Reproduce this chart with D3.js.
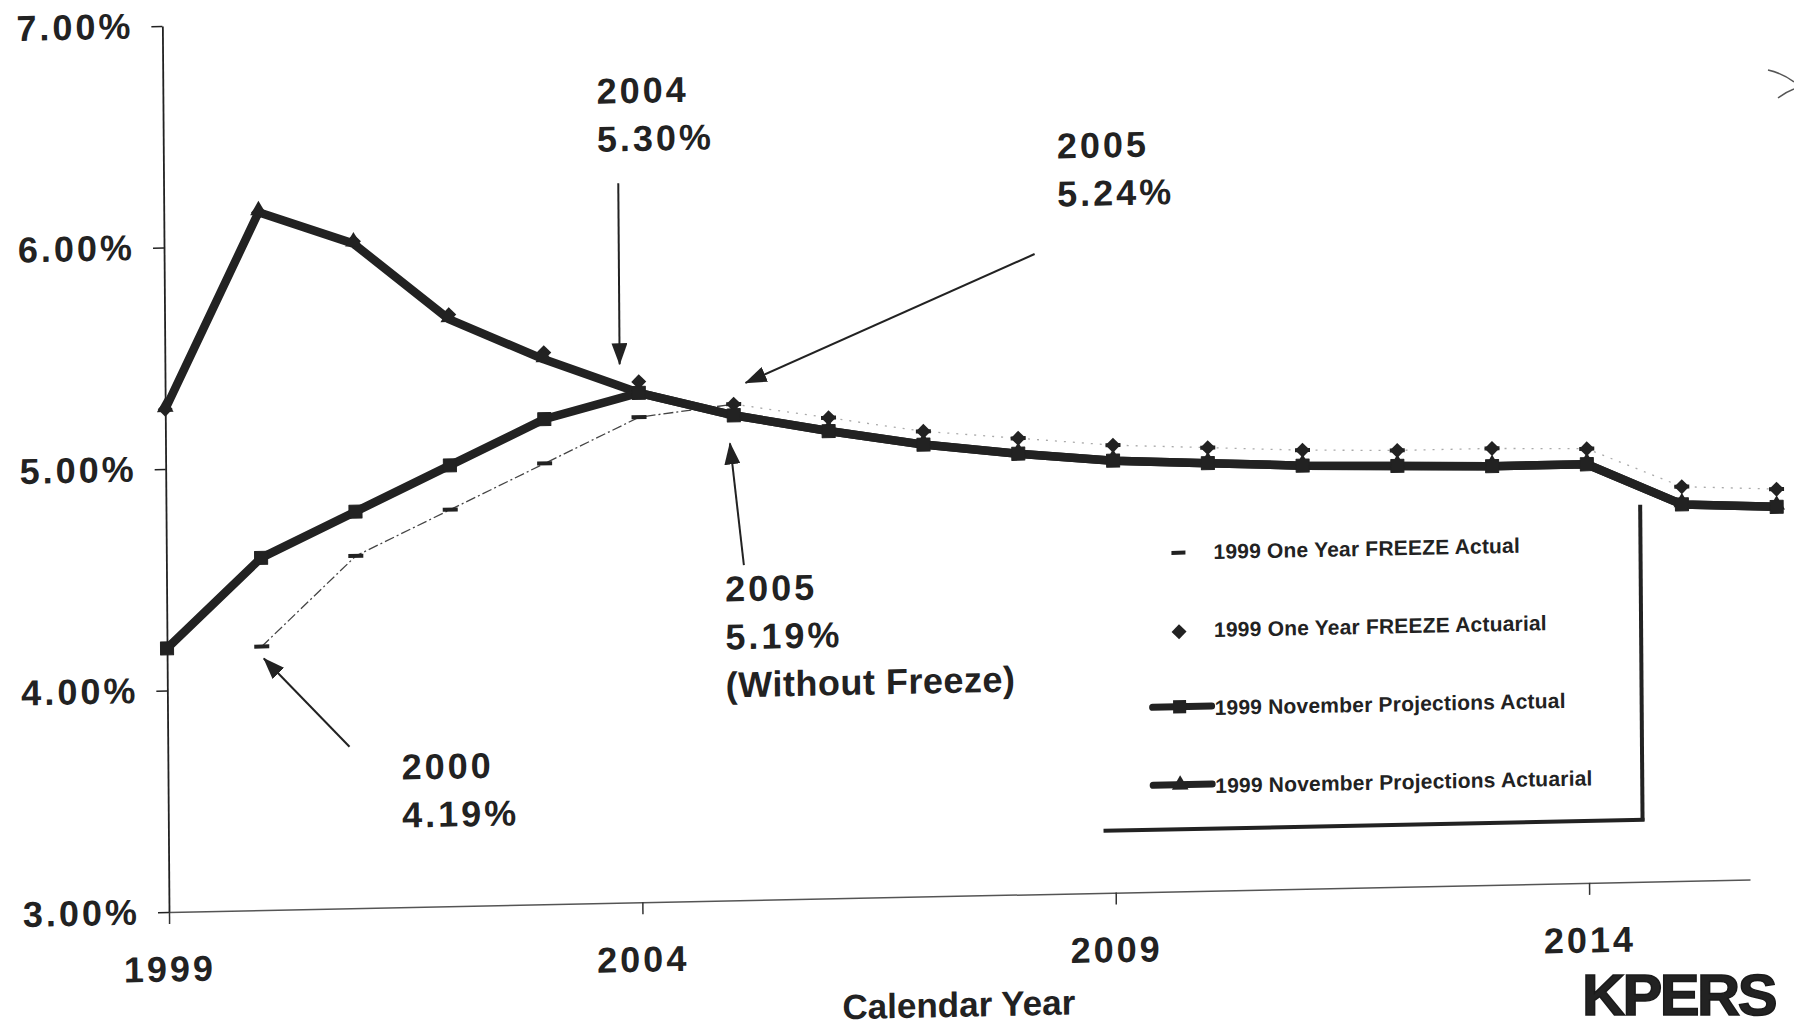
<!DOCTYPE html>
<html>
<head>
<meta charset="utf-8">
<script src="https://cdn.jsdelivr.net/npm/d3@7"></script>
<style>
  body { margin: 0; background: #fff; }
  text { font-family: "Liberation Sans", Arial, sans-serif; font-weight: bold; fill: #222; }
</style>
</head>
<body>
<div id="chart"></div>
<script>
// ---- data ----
var years = [1999, 2000, 2001, 2002, 2003, 2004, 2005, 2006, 2007, 2008,
             2009, 2010, 2011, 2012, 2013, 2014, 2015, 2016];
var novActuarial = [5.27, 6.15, 6.00, 5.65, 5.46, 5.30, 5.19, 5.11, 5.04, 4.99,
                    4.95, 4.93, 4.91, 4.90, 4.89, 4.89, 4.70, 4.68];
var novActual = [4.19, 4.59, 4.79, 4.99, 5.19, 5.30, 5.19, 5.11, 5.04, 4.99,
                 4.95, 4.93, 4.91, 4.90, 4.89, 4.89, 4.70, 4.68];
var freezeActuarial = [5.27, 6.15, 6.01, 5.67, 5.49, 5.35, 5.24, 5.17, 5.10, 5.06,
                       5.02, 5.00, 4.98, 4.97, 4.97, 4.96, 4.78, 4.76];
var freezeActual = [null, 4.19, 4.59, 4.79, 4.99, 5.19, 5.24, 5.17, 5.10, 5.06,
                    5.02, 5.00, 4.98, 4.97, 4.97, 4.96, 4.78, 4.76];

var yTicks = [3, 4, 5, 6, 7];
var xTicks = [1999, 2004, 2009, 2014];
var xTitle = "Calendar Year";
var legendLabels = ["1999 One Year FREEZE Actual", "1999 One Year FREEZE Actuarial",
                    "1999 November Projections Actual", "1999 November Projections Actuarial"];

// callouts: the point each arrow refers to, and the text
var calloutYears = [2004, 2005, 2005, 2000];
var calloutValues = [5.30, 5.24, 5.19, 4.19];
var calloutText = [["2004", "5.30%"], ["2005", "5.24%"], ["2005", "5.19%", "(Without Freeze)"], ["2000", "4.19%"]];

// ---- page setup ----
var width = 1794, height = 1030;
var svg = d3.select("#chart").append("svg")
  .attr("width", width)
  .attr("height", height);

svg.append("defs").append("marker")
  .attr("id", "head")
  .attr("markerUnits", "userSpaceOnUse")
  .attr("viewBox", "0 0 22 16")
  .attr("refX", 21).attr("refY", 8)
  .attr("markerWidth", 22).attr("markerHeight", 16)
  .attr("orient", "auto")
  .append("path").attr("d", "M0,0L22,8L0,16Z").attr("fill", "#222");

// the scanned page is slightly skewed, so the whole chart is too
var g = svg.append("g")
  .attr("transform", "translate(169,912) matrix(1,-0.0205,0.0075,1,0,0) translate(-169,-912)");

var x = d3.scaleLinear().domain([1999, 2014]).range([169, 1590]);
var y = d3.scaleLinear().domain([3, 7]).range([912, 26]);

function series(vals) {
  return years.map(function(yr, i) { return { year: yr, value: vals[i] }; });
}

var line = d3.line()
  .defined(function(d) { return d.value != null; })
  .x(function(d) { return x(d.year); })
  .y(function(d) { return y(d.value); });

// ---- axes ----
var yAxis = g.append("g")
  .attr("transform", "translate(" + x(1999) + ",0)")
  .call(d3.axisLeft(y).tickValues(yTicks).tickSize(11).tickSizeOuter(0).tickPadding(18)
    .tickFormat(function(d) { return d.toFixed(2) + "%"; }));
yAxis.select(".domain").attr("stroke", "#222").attr("stroke-width", 1.8);
yAxis.selectAll(".tick line").attr("stroke", "#222").attr("stroke-width", 1.5);
yAxis.selectAll("text").style("font-size", "36px").style("letter-spacing", "3px").attr("fill", "#222");

var xAxis = g.append("g")
  .attr("transform", "translate(0," + y(3) + ")")
  .call(d3.axisBottom(x.copy().domain([1999, 2015.7]).range([169, 1750]))
    .tickValues(xTicks).tickSize(12).tickSizeOuter(0).tickPadding(32)
    .tickFormat(d3.format("d")));
xAxis.select(".domain").attr("stroke", "#555").attr("stroke-width", 1.5);
xAxis.selectAll(".tick line").attr("stroke", "#333").attr("stroke-width", 1.5);
xAxis.selectAll("text").style("font-size", "36px").style("letter-spacing", "3px").attr("fill", "#222");

g.append("text")
  .attr("x", 958).attr("y", 1033)
  .attr("text-anchor", "middle")
  .style("font-size", "35px")
  .text(xTitle);

// ---- freeze actual: thin line and dash markers ----
var fa = series(freezeActual);
g.append("path")
  .datum(fa.filter(function(d) { return d.year <= 2005; }))
  .attr("d", line)
  .attr("fill", "none").attr("stroke", "#444").attr("stroke-width", 1.3)
  .attr("stroke-dasharray", "10,3,2,3");
g.append("path")
  .datum(fa.filter(function(d) { return d.year >= 2005; }))
  .attr("d", line)
  .attr("fill", "none").attr("stroke", "#aaa").attr("stroke-width", 1.3)
  .attr("stroke-dasharray", "2,7");
g.selectAll(".dash")
  .data(fa.filter(function(d) { return d.value != null; }))
  .enter().append("rect")
  .attr("class", "dash")
  .attr("x", function(d) { return x(d.year) - 7.5; })
  .attr("y", function(d) { return y(d.value) - 2; })
  .attr("width", 15).attr("height", 4)
  .attr("fill", "#222");

// ---- freeze actuarial: diamonds only ----
var diamond = d3.symbol().type(d3.symbolSquare).size(112);
g.selectAll(".diamond")
  .data(series(freezeActuarial))
  .enter().append("path")
  .attr("class", "diamond")
  .attr("d", diamond)
  .attr("transform", function(d) { return "translate(" + x(d.year) + "," + y(d.value) + ") rotate(45)"; })
  .attr("fill", "#222");

// ---- November projections: thick lines ----
var nAct = series(novActuarial);
var nActual = series(novActual);

g.append("path").datum(nAct).attr("d", line)
  .attr("fill", "none").attr("stroke", "#222").attr("stroke-width", 8.5).attr("stroke-linejoin", "round");
g.append("path").datum(nActual).attr("d", line)
  .attr("fill", "none").attr("stroke", "#222").attr("stroke-width", 8.5).attr("stroke-linejoin", "round");

var tri = d3.symbol().type(d3.symbolTriangle).size(120);
var sq = d3.symbol().type(d3.symbolSquare).size(170);

g.selectAll(".tri")
  .data(nAct)
  .enter().append("path")
  .attr("d", tri)
  .attr("transform", function(d) { return "translate(" + x(d.year) + "," + (y(d.value) - 2) + ")"; })
  .attr("fill", "#222");
g.selectAll(".sq")
  .data(nActual)
  .enter().append("path")
  .attr("d", sq)
  .attr("transform", function(d) { return "translate(" + x(d.year) + "," + y(d.value) + ")"; })
  .attr("fill", "#222")
  .attr("stroke", "#222").attr("stroke-width", 1).attr("stroke-linejoin", "round");

// ---- callouts (offsets from the point they refer to) ----
var calloutLayout = [
  { tip: [-19, -29],  tail: [-19, -210], text: [-40, -290] },
  { tip: [12, -21],   tail: [302, -144], text: [325, -239] },
  { tip: [-4, 28],    tail: [9, 150],    text: [-10, 186] },
  { tip: [2, 12],     tail: [87, 102],   text: [139, 136] }
];

calloutYears.forEach(function(yr, i) {
  var px = x(yr), py = y(calloutValues[i]);
  var L = calloutLayout[i];
  g.append("line")
    .attr("x1", px + L.tail[0]).attr("y1", py + L.tail[1])
    .attr("x2", px + L.tip[0]).attr("y2", py + L.tip[1])
    .attr("stroke", "#222").attr("stroke-width", 2)
    .attr("marker-end", "url(#head)");
  var t = g.append("text")
    .attr("x", px + L.text[0]).attr("y", py + L.text[1])
    .style("font-size", "36px");
  calloutText[i].forEach(function(s, j) {
    t.append("tspan")
      .attr("x", px + L.text[0])
      .attr("dy", j === 0 ? 0 : 48)
      .style("letter-spacing", s.charAt(0) === "(" ? "0.5px" : "3px")
      .text(s);
  });
});

// ---- legend ----
var legend = g.append("g");
legendLabels.forEach(function(label, i) {
  var by = 580.5 + i * 78;
  legend.append("text")
    .attr("x", 1216).attr("y", by)
    .style("font-size", "21px")
    .style("letter-spacing", "0.2px")
    .text(label);
  if (i === 0) {
    legend.append("rect").attr("x", 1174).attr("y", by - 9).attr("width", 14).attr("height", 4).attr("fill", "#222");
  } else if (i === 1) {
    legend.append("path").attr("d", diamond)
      .attr("transform", "translate(1181," + (by - 6) + ") rotate(45)").attr("fill", "#222");
  } else {
    legend.append("line").attr("x1", 1154).attr("x2", 1213)
      .attr("y1", by - 9).attr("y2", by - 9)
      .attr("stroke", "#222").attr("stroke-width", 7).attr("stroke-linecap", "round");
    legend.append("path").attr("d", i === 2 ? sq : tri)
      .attr("transform", "translate(1181," + (by - 9) + ")").attr("fill", "#222");
  }
});
legend.append("line").attr("x1", 1643).attr("x2", 1643).attr("y1", 535).attr("y2", 851)
  .attr("stroke", "#222").attr("stroke-width", 4);
legend.append("line").attr("x1", 1104).attr("x2", 1645).attr("y1", 850).attr("y2", 850)
  .attr("stroke", "#222").attr("stroke-width", 4);

// ---- page marks outside the chart ----
svg.append("path")
  .attr("d", "M1768,70 q14,3 26,12 M1778,98 q8,-6 16,-9")
  .attr("fill", "none").attr("stroke", "#555").attr("stroke-width", 1.5);

svg.append("text")
  .attr("transform", "translate(1582,1015) scale(1.03,1.0)")
  .style("font-size", "58px")
  .style("font-weight", "900")
  .style("letter-spacing", "-2.5px")
  .attr("fill", "#1a1a1a")
  .attr("stroke", "#1a1a1a").attr("stroke-width", 1.5)
  .text("KPERS");
</script>
</body>
</html>
